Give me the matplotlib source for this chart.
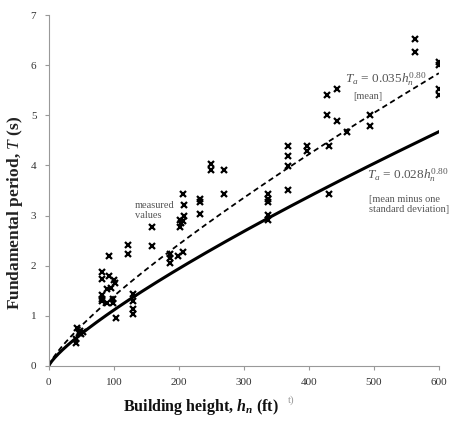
import numpy as np
import matplotlib
matplotlib.use("Agg")
import matplotlib.pyplot as plt

plt.rcParams['font.family'] = ['Liberation Serif', 'DejaVu Serif']
plt.rcParams['mathtext.fontset'] = 'custom'
plt.rcParams['mathtext.rm'] = 'Liberation Serif'
plt.rcParams['mathtext.it'] = 'Liberation Serif:italic'
plt.rcParams['mathtext.bf'] = 'Liberation Serif:bold'
plt.rcParams['mathtext.bfit'] = 'Liberation Serif:bold:italic'

# measured values: building height (ft), fundamental period (s)
heights = [41, 42, 44, 46, 48, 50, 52,
           82, 82, 82, 82, 82,
           92, 92, 90, 90, 96,
           100, 101, 99, 99, 104,
           121, 121,
           130, 130, 130, 130,
           158, 158,
           187, 187, 187, 198,
           201, 201, 203,
           207, 208, 208, 206, 207,
           232, 232, 232,
           249, 249,
           269, 269,
           337, 337, 337, 337, 337,
           368, 368, 368, 368,
           397, 397,
           428, 428, 431, 431,
           444, 444, 459,
           494, 494,
           564, 564,
           600, 600, 600, 600]
periods = [0.46, 0.53, 0.76, 0.66, 0.70, 0.64, 0.68,
           1.87, 1.74, 1.41, 1.34, 1.29,
           2.20, 1.80, 1.53, 1.25, 1.56,
           1.72, 1.66, 1.34, 1.25, 0.96,
           2.42, 2.24,
           1.43, 1.29, 1.14, 1.03,
           2.77, 2.39,
           2.24, 2.16, 2.06, 2.20,
           2.92, 2.77, 2.85,
           3.44, 3.22, 3.00, 2.89, 2.28,
           3.34, 3.27, 3.03,
           4.03, 3.90,
           3.90, 3.43,
           3.44, 3.34, 3.27, 3.02, 2.92,
           4.38, 4.18, 3.98, 3.52,
           4.38, 4.28,
           5.41, 5.01, 4.38, 3.43,
           5.52, 4.88, 4.66,
           5.01, 4.79,
           6.52, 6.27,
           6.07, 6.00, 5.52, 5.41]

coef_mean = 0.035
coef_lower = 0.028
exponent = 0.80
x_ticks = [0, 100, 200, 300, 400, 500, 600]
y_ticks = [0, 1, 2, 3, 4, 5, 6, 7]

fig = plt.figure(figsize=(4.61, 4.22), dpi=100)
ax = fig.add_axes([0.106, 0.133, 0.846, 0.831])

h = np.linspace(0, 600, 400)
ax.plot(h, coef_lower * h ** exponent, color='black', lw=2.2, zorder=2)
ax.plot(h, coef_mean * h ** exponent, color='black', lw=1.3, ls=(0, (3, 2)), zorder=2)
ax.plot(heights, periods, ls='none', marker='x', color='black', ms=4.3, mew=1.6, zorder=3)

ax.set_xlim(0, 600)
ax.set_ylim(0, 7)
ax.set_xticks(x_ticks)
ax.set_yticks(y_ticks)
for s in ['top', 'right']:
    ax.spines[s].set_visible(False)
for s in ['left', 'bottom']:
    ax.spines[s].set_color('#999999')
    ax.spines[s].set_linewidth(0.8)
ax.tick_params(axis='both', direction='out', length=3, width=0.8, color='#999999',
               labelsize=8, labelcolor='#333333', pad=6)

fig.text(15 / 461, 1 - 213 / 422, r'Fundamental period, $T$ (s)', fontsize=12.5,
         fontweight='bold', color='#222222', rotation=90, ha='center', va='center')
fig.text(201 / 461, 1 - 407 / 422, r'Building height, $\mathbfit{h_n}$ (ft)', fontsize=11.5,
         fontweight='bold', color='#111111', ha='center', va='center')

tc = '#555555'
ax.text(455, 5.72, r'$T_a$ = 0.035$h_n^{0.80}$', fontsize=9.5, color=tc, ha='left', va='center')
ax.text(491, 5.37, '[mean]', fontsize=7.5, color=tc, ha='center', va='center')
ax.text(490, 3.81, r'$T_a$ = 0.028$h_n^{0.80}$', fontsize=9.5, color=tc, ha='left', va='center')
ax.text(493, 3.22, '[mean minus one\nstandard deviation]', fontsize=7.5, color=tc, ha='left', va='center',
        linespacing=1.1)
ax.text(132, 3.1, 'measured\nvalues', fontsize=7.5, color=tc, ha='left', va='center', linespacing=1.1)
fig.text(288 / 461, 1 - 400 / 422, 't)', fontsize=8, color='#999999', ha='left', va='center')

fig.savefig('out.png', dpi=100)
